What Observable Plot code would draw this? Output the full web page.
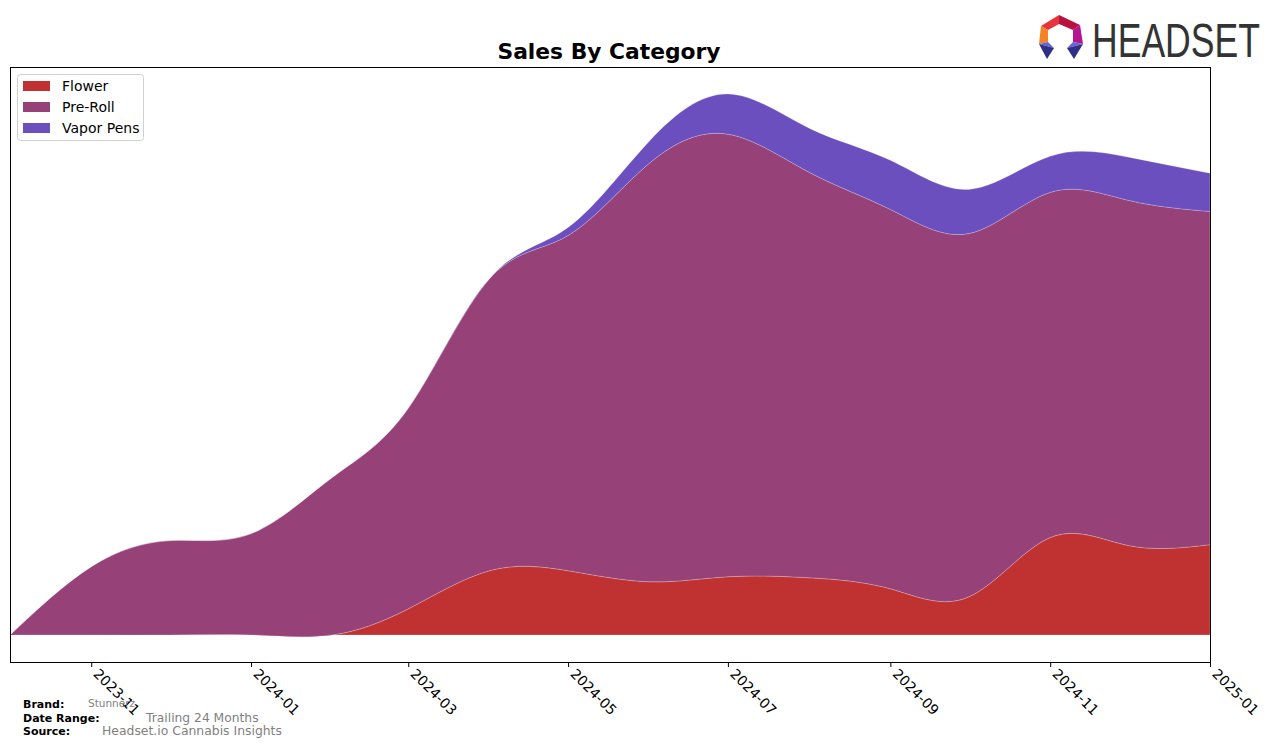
<!DOCTYPE html>
<html>
<head>
<meta charset="utf-8">
<script src="https://cdn.jsdelivr.net/npm/d3@7"></script>
<script src="https://cdn.jsdelivr.net/npm/@observablehq/plot@0.6"></script>
<style>
  html, body { margin: 0; padding: 0; background: #fff; }
  #wrap { position: relative; width: 1276px; height: 748px; overflow: hidden; font-family: "DejaVu Sans", sans-serif; }
  #chart { position: absolute; left: 0; top: 0; }
  #overlay { position: absolute; left: 0; top: 0; pointer-events: none; }
</style>
</head>
<body>
<div id="wrap">
  <div id="chart"></div>
  <svg id="overlay" width="1276" height="748" xmlns="http://www.w3.org/2000/svg"></svg>
</div>
<script>
// ---- data ----
const months = ["2023-10","2023-11","2023-12","2024-01","2024-02","2024-03","2024-04","2024-05",
                "2024-06","2024-07","2024-08","2024-09","2024-10","2024-11","2024-12","2025-01"];
const categories = ["Flower", "Pre-Roll", "Vapor Pens"];
const flower    = [0, 0, 0, 0, 0, 26, 64, 64, 53, 58, 57, 46, 38, 97, 89, 90];
const preRoll   = [0, 68, 94, 101, 157, 200, 291, 334, 417, 441, 404, 378, 362, 344, 344, 332];
const vaporPens = [0, 0, 0, 0, 0, 0, 0, 8, 22, 40, 44, 49, 44, 36, 43, 38];
const tickLabels = ["2023-11","2024-01","2024-03","2024-05","2024-07","2024-09","2024-11","2025-01"];
const colors = ["#c03232", "#964278", "#6b4fbf"];
const titleText = "Sales By Category";
const footer = [
  ["Brand:", "Stunnerz"],
  ["Date Range:", "Trailing 24 Months"],
  ["Source:", "Headset.io Cannabis Insights"]
];

// ---- build table ----
const seriesValues = [flower, preRoll, vaporPens];
const parse = s => new Date(s + "-01T00:00:00Z");
const rows = [];
categories.forEach((c, j) => months.forEach((m, i) => rows.push({date: parse(m), category: c, value: seriesValues[j][i]})));
const totals = months.map((m, i) => seriesValues.reduce((s, arr) => s + arr[i], 0));
const M = d3.max(totals);
const tickDates = tickLabels.map(parse);

const chart = Plot.plot({
  width: 1276,
  height: 748,
  marginLeft: 10,
  marginRight: 66,
  marginTop: 67,
  marginBottom: 86,
  style: {fontFamily: "DejaVu Sans, sans-serif", fontSize: "14px", background: "white", color: "black"},
  x: {type: "utc", domain: [parse(months[0]), parse(months[months.length - 1])]},
  y: {domain: [-0.05 * M, 1.05 * M], axis: null},
  color: {domain: categories, range: colors},
  marks: [
    Plot.areaY(rows, {x: "date", y: "value", z: "category", fill: "category", order: categories, curve: "natural", stroke: "white", strokeOpacity: 0.35, strokeWidth: 0.6}),
    Plot.frame({stroke: "black", strokeWidth: 1}),
    // tick marks
    Plot.axisX({ticks: tickDates, tickFormat: () => "", tickSize: 5, label: null, stroke: "black"}),
    // tick labels
    Plot.axisX({ticks: tickDates, tickFormat: d3.utcFormat("%Y-%m"), tickRotate: 45, tickSize: 0, tickPadding: 9, dx: 4, dy: 0, label: null, fontSize: 14})
  ]
});
document.getElementById("chart").appendChild(chart);

// ---- overlay: title, legend, footer, logo ----
const ov = d3.select("#overlay");
ov.append("text").attr("x", 609).attr("y", 59).attr("text-anchor", "middle")
  .attr("font-family", "DejaVu Sans").attr("font-weight", "bold").attr("font-size", 21.8).text(titleText);

const lg = ov.append("g");
lg.append("rect").attr("x", 17.5).attr("y", 74.5).attr("width", 126).attr("height", 66).attr("rx", 3)
  .attr("fill", "white").attr("fill-opacity", 0.8).attr("stroke", "#d0d0d0");
categories.forEach((c, i) => {
  const cy = 86 + i * 21;
  lg.append("rect").attr("x", 23).attr("y", cy - 5).attr("width", 27).attr("height", 10).attr("fill", colors[i]);
  lg.append("text").attr("x", 62).attr("y", cy + 5).attr("font-family", "DejaVu Sans").attr("font-size", 14).text(c);
});

const fx = [[23, 88], [23, 146], [23, 102]];
const fy = [708, 722, 735];
const fsize = [10.5, 12.3, 12.4];
footer.forEach(([k, v], i) => {
  ov.append("text").attr("x", fx[i][0]).attr("y", fy[i]).attr("font-family", "DejaVu Sans").attr("font-weight", "bold")
    .attr("font-size", 11).attr("fill", "black").text(k);
  ov.append("text").attr("x", fx[i][1]).attr("y", fy[i] - (i === 0 ? 1 : 0)).attr("font-family", "DejaVu Sans")
    .attr("font-size", fsize[i]).attr("fill", "#808080").text(v);
});

// logo
const logo = ov.append("g").attr("transform", "translate(1038,15)");
const polys = [
  {p: "3,11 21,0 21,9 10,15", c: "#e8333a"},
  {p: "21,0 42,10 35,15 21,9", c: "#b8123f"},
  {p: "3,11 10,15 10,27 1,29", c: "#f28424"},
  {p: "42,10 45,29 35,27 35,15", c: "#b5168e"},
  {p: "1,29 10,27 16,33", c: "#6b61d8"},
  {p: "1,29 16,33 9,44", c: "#2e2f86"},
  {p: "45,29 35,27 29,33", c: "#6b61d8"},
  {p: "45,29 29,33 36,44", c: "#2e2f86"}
];
polys.forEach(d => logo.append("polygon").attr("points", d.p).attr("fill", d.c));
const lt = ov.append("text").attr("x", 0).attr("y", 0).attr("font-family", "Liberation Sans Narrow, Liberation Sans, sans-serif")
  .attr("font-size", 48).attr("fill", "#333333").text("HEADSET");
const w = lt.node().getComputedTextLength() || 168;
lt.attr("transform", `translate(1092,57) scale(${168 / w},1)`);
</script>
</body>
</html>
